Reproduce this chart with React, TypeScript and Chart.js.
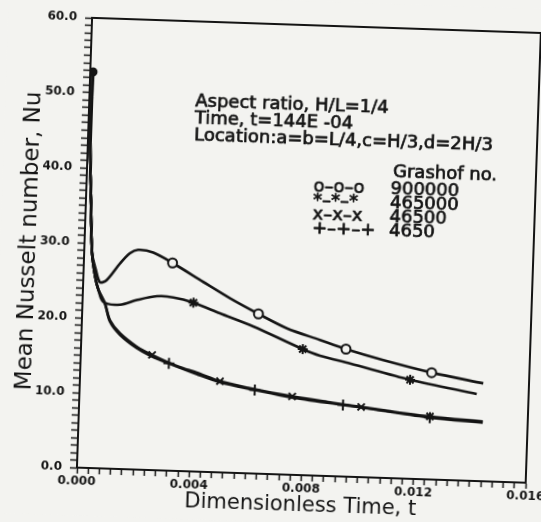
import { useEffect, useRef } from 'react';
import { Chart, registerables } from 'chart.js';

Chart.register(...registerables);

const INK = '#141414';
const PAPER = '#f3f3f0';
const FAMILY = '"DejaVu Sans", sans-serif';

// Grashof no. 900000 (o-o-o)
const tGr900000 = [0.0001, 0.0001, 0.00018, 0.00028, 0.00044, 0.0006, 0.00083, 0.00129, 0.00163, 0.00192, 0.00246, 0.00316, 0.00428, 0.00525, 0.00628, 0.00731, 0.0085, 0.00944, 0.01078, 0.01252, 0.01437];
const nuGr900000 = [52.8, 42.4, 35.7, 28.7, 26.4, 24.8, 25.1, 27.4, 28.8, 29.3, 29.0, 27.7, 25.3, 23.25, 21.3, 19.5, 18.1, 17.0, 15.7, 14.25, 13.05];
const markGr900000 = [11, 14, 17, 19];

// Grashof no. 465000 (*-*-*)
const tGr465000 = [0.0001, 0.0001, 0.00018, 0.00028, 0.00042, 0.00055, 0.00074, 0.00134, 0.00193, 0.00264, 0.00323, 0.00395, 0.00491, 0.00611, 0.0079, 0.00852, 0.0096, 0.01176, 0.01415];
const nuGr465000 = [52.8, 42.4, 35.7, 28.7, 25.5, 23.8, 22.2, 21.9, 22.6, 23.2, 23.1, 22.5, 21.2, 19.6, 16.8, 16.0, 15.1, 13.2, 11.6];
const markGr465000 = [11, 14, 17];

// Grashof no. 46500 (x-x-x)
const tGr46500 = [0.0001, 0.0001, 0.00018, 0.00028, 0.00042, 0.00055, 0.0008, 0.001, 0.00137, 0.00198, 0.00254, 0.0035, 0.00415, 0.00499, 0.006, 0.00758, 0.009, 0.01005, 0.011, 0.01251, 0.0144];
const nuGr46500 = [52.8, 42.4, 35.7, 28.7, 25.5, 23.8, 22.0, 19.8, 18.1, 16.4, 15.35, 13.9, 13.2, 12.15, 11.4, 10.45, 9.8, 9.35, 8.95, 8.4, 7.95];
const markGr46500 = [10, 13, 15, 17, 19];

// Grashof no. 4650 (+-+-+)
const tGr4650 = [0.0001, 0.0001, 0.00018, 0.00028, 0.00042, 0.00055, 0.0008, 0.001, 0.00137, 0.00198, 0.0025, 0.00315, 0.00415, 0.005, 0.00624, 0.0075, 0.0094, 0.0105, 0.01251, 0.0144];
const nuGr4650 = [52.8, 42.4, 35.7, 28.7, 25.5, 23.8, 22.0, 19.6, 17.9, 16.2, 15.2, 14.3, 13.0, 12.0, 11.15, 10.35, 9.55, 9.1, 8.25, 7.8];
const markGr4650 = [11, 14, 16, 18];

const grashofLabels = ['900000', '465000', '46500', '4650'];
const legendSymbols = ['o\u2013o\u2013o', '*\u2013*\u2013*', 'x\u2013x\u2013x', '+\u2013+\u2013+'];
const noteLines = ['Aspect ratio, H/L=1/4', 'Time, t=144E -04', 'Location:a=b=L/4,c=H/3,d=2H/3'];

const X_MIN = 0;
const X_MAX = 0.016;
const X_MAJOR = 0.004;
const X_MINOR = 0.0004;
const Y_MIN = 0;
const Y_MAX = 60;
const Y_MAJOR = 10;
const Y_MINOR = 1;

const toPoints = (ts: number[], ys: number[]) => ts.map((t, i) => ({ x: t, y: ys[i] }));

const paperPlugin = {
  id: 'paper',
  beforeDraw(chart: any) {
    const { ctx, width, height } = chart;
    ctx.save();
    ctx.fillStyle = PAPER;
    ctx.fillRect(0, 0, width, height);
    ctx.restore();
  },
  afterDraw(chart: any) {
    const { ctx, chartArea: a } = chart;
    ctx.save();
    ctx.strokeStyle = INK;
    ctx.lineWidth = 2;
    ctx.beginPath();
    ctx.moveTo(a.left, a.top);
    ctx.lineTo(a.right, a.top);
    ctx.lineTo(a.right, a.bottom);
    ctx.stroke();

    ctx.fillStyle = INK;
    ctx.textAlign = 'left';
    ctx.textBaseline = 'alphabetic';
    ctx.font = `18px ${FAMILY}`;
    ctx.lineWidth = 0.7;
    ctx.lineJoin = 'round';
    const put = (s: string, x: number, y: number) => {
      ctx.fillText(s, x, y);
      ctx.strokeText(s, x, y);
    };
    noteLines.forEach((s, i) => put(s, a.left + 106, a.top + 84.6 + i * 17));
    put('Grashof no.', a.left + 306, a.top + 148.6);
    grashofLabels.forEach((g, i) => {
      const y = a.top + 165.8 + i * 14;
      put(legendSymbols[i], a.left + 227, y);
      put(g, a.left + 304, y);
    });
    ctx.restore();
  },
};

const markerRadius = (marks: number[], r: number) => (c: any) => (marks.includes(c.dataIndex) ? r : 0);

export default function App() {
  const ref = useRef<HTMLCanvasElement | null>(null);

  useEffect(() => {
    const canvas = ref.current;
    if (!canvas) return;
    const tickFont = { family: FAMILY, size: 12, weight: 'bold' as const };
    const base = {
      borderColor: INK,
      borderWidth: 2.6,
      pointBorderColor: INK,
      pointBorderWidth: 2,
      pointHoverRadius: 0,
      tension: 0.3,
      fill: false,
    };
    const chart = new Chart(canvas, {
      type: 'line',
      data: {
        datasets: [
          {
            ...base,
            label: grashofLabels[0],
            data: toPoints(tGr900000, nuGr900000),
            pointStyle: 'circle',
            pointRadius: (c: any) => (c.dataIndex === 0 ? 3.5 : markGr900000.includes(c.dataIndex) ? 4.5 : 0),
            pointBackgroundColor: (c: any) => (c.dataIndex === 0 ? INK : PAPER),
          },
          {
            ...base,
            label: grashofLabels[1],
            data: toPoints(tGr465000, nuGr465000),
            pointStyle: 'star',
            pointRadius: markerRadius(markGr465000, 5),
            pointBackgroundColor: INK,
          },
          {
            ...base,
            label: grashofLabels[2],
            data: toPoints(tGr46500, nuGr46500),
            pointStyle: 'crossRot',
            pointRadius: markerRadius(markGr46500, 5),
            pointBackgroundColor: INK,
          },
          {
            ...base,
            label: grashofLabels[3],
            data: toPoints(tGr4650, nuGr4650),
            pointStyle: 'cross',
            pointRadius: markerRadius(markGr4650, 5.5),
            pointBackgroundColor: INK,
          },
        ] as any,
      },
      options: {
        animation: false,
        responsive: false,
        devicePixelRatio: 1,
        layout: { padding: { left: 0, right: 27, top: 24, bottom: 0 } },
        plugins: { legend: { display: false }, tooltip: { enabled: false } },
        events: [],
        scales: {
          x: {
            type: 'linear',
            min: X_MIN,
            max: X_MAX,
            afterFit: (s: any) => {
              s.height = 48;
              s.paddingLeft = 0;
              s.paddingRight = 0;
            },
            border: { display: true, color: INK, width: 2 },
            grid: { display: true, drawOnChartArea: false, drawTicks: true, tickLength: 6, tickWidth: 1.5, tickColor: INK },
            ticks: {
              stepSize: X_MINOR,
              autoSkip: false,
              maxRotation: 0,
              minRotation: 0,
              padding: 1,
              color: INK,
              font: tickFont,
              callback: (v: any) => {
                const k = Number(v) / X_MAJOR;
                return Math.abs(k - Math.round(k)) < 1e-6 ? Number(v).toFixed(3) : '';
              },
            },
            title: {
              display: true,
              text: 'Dimensionless Time, t',
              color: INK,
              font: { family: FAMILY, size: 21 },
              padding: { top: 0, bottom: 5 },
            },
          },
          y: {
            type: 'linear',
            min: Y_MIN,
            max: Y_MAX,
            afterFit: (s: any) => {
              s.width = 84;
              s.paddingTop = 0;
              s.paddingBottom = 0;
            },
            border: { display: true, color: INK, width: 2 },
            grid: { display: true, drawOnChartArea: false, drawTicks: true, tickLength: 7, tickWidth: 1.5, tickColor: INK },
            ticks: {
              stepSize: Y_MINOR,
              autoSkip: false,
              padding: 8,
              color: INK,
              font: tickFont,
              callback: (v: any) => {
                const k = Number(v) / Y_MAJOR;
                return Math.abs(k - Math.round(k)) < 1e-6 ? Number(v).toFixed(1) : '';
              },
            },
            title: {
              display: true,
              text: 'Mean Nusselt number, Nu',
              color: INK,
              font: { family: FAMILY, size: 23 },
              padding: { top: 15, bottom: 0 },
            },
          },
        },
      } as any,
      plugins: [paperPlugin],
    });
    return () => chart.destroy();
  }, []);

  return (
    <div
      style={{
        position: 'fixed',
        left: 0,
        top: 0,
        width: 541,
        height: 522,
        overflow: 'hidden',
        background: PAPER,
      }}
    >
      <canvas
        ref={ref}
        width={560}
        height={522}
        style={{ display: 'block', width: 560, height: 522, transform: 'rotate(1.93deg)', transformOrigin: '270.5px 261px' }}
      />
    </div>
  );
}
